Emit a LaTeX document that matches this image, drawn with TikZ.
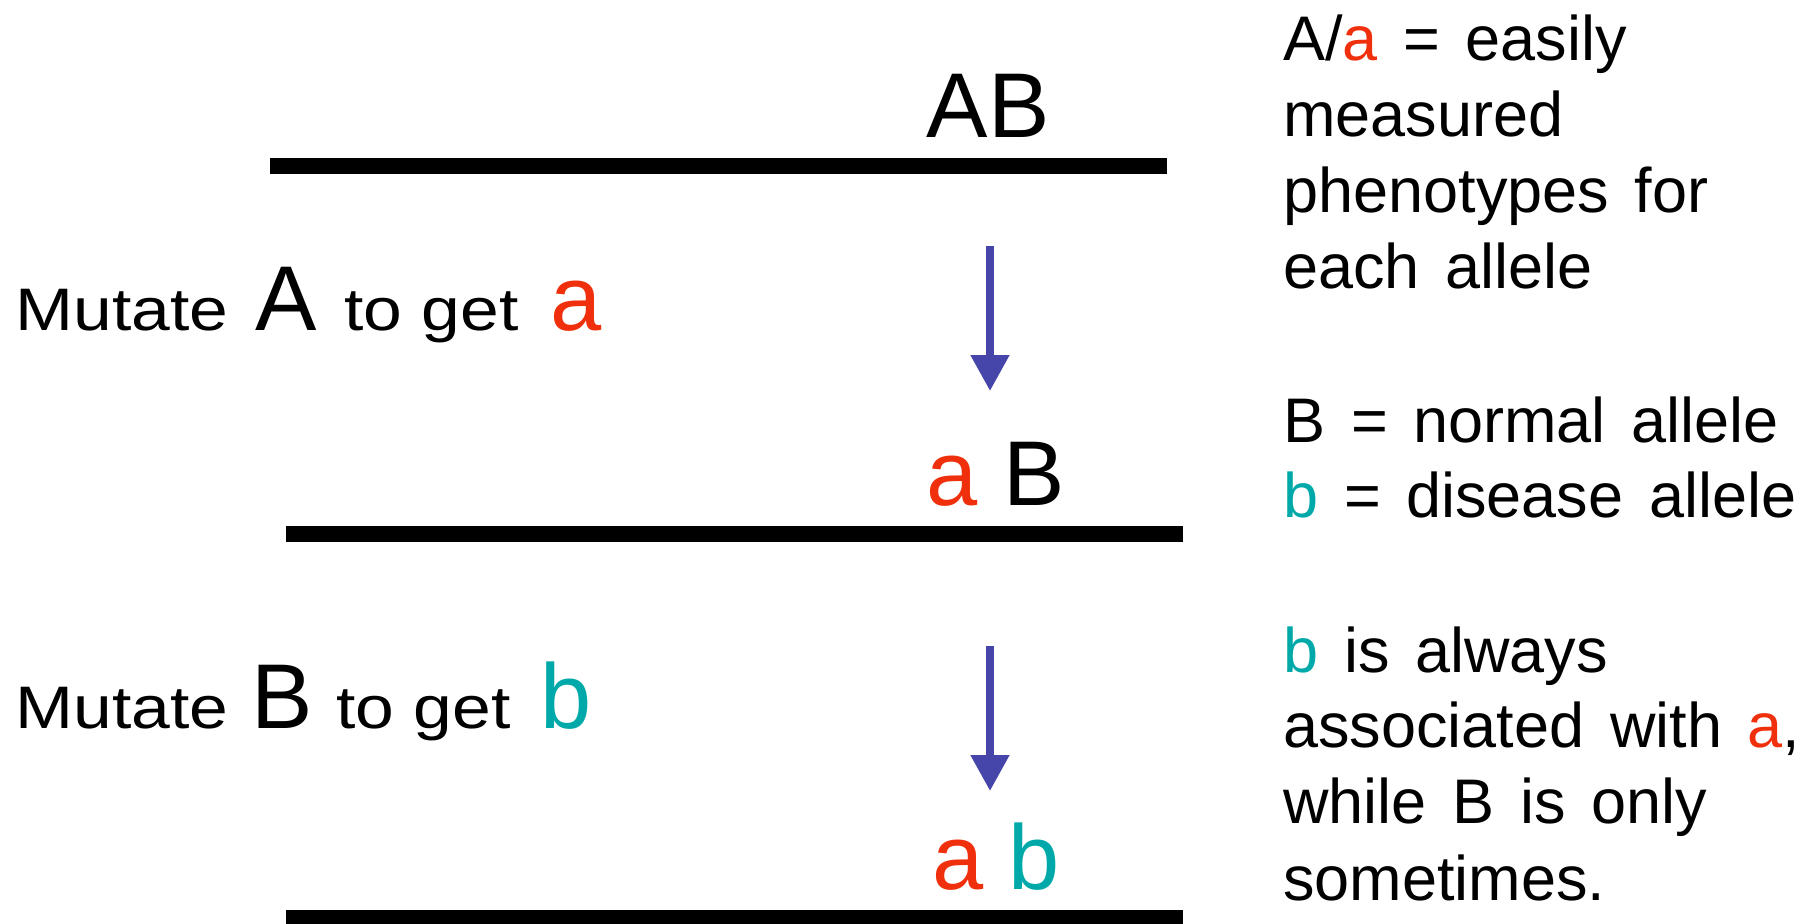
\documentclass[tikz,border=0pt]{standalone}
\usepackage{fontspec}
\setmainfont{Liberation Sans}
\usetikzlibrary{arrows.meta}
\definecolor{allelered}{RGB}{240,48,12}
\definecolor{alleleteal}{RGB}{0,169,169}
\definecolor{mutblue}{RGB}{70,70,170}
\newcommand{\ra}{\textcolor{allelered}{a}}
\newcommand{\tb}{\textcolor{alleleteal}{b}}
\newcommand{\bigsz}{\fontsize{46}{55}\selectfont}
\newcommand{\wide}[1]{\scalebox{1.16}[1]{#1}}
\begin{document}
\begin{tikzpicture}[x=0.5pt,y=-0.5pt,
  note/.style={inner sep=0pt, anchor=base west,
    font={\fontsize{31.5}{38}\selectfont\spaceskip=12.8pt\relax}},
  mutword/.style={inner sep=0pt, anchor=base west, font=\fontsize{30}{36}\selectfont},
  mutletter/.style={inner sep=0pt, anchor=base west, font=\bigsz},
  geno/.style={inner sep=0pt, anchor=base, font=\bigsz},
  chrom/.style={line width=8pt, black},
  mutarrow/.style={mutblue, line width=4pt, -{Triangle[width=18.5pt,length=18pt]}}]
\useasboundingbox (0,0) rectangle (1817,923);

% chromosomes
\draw[chrom] (270,166) -- (1167,166);
\draw[chrom] (286,534) -- (1183,534);
\draw[chrom] (286,918) -- (1183,918);

% genotypes above each chromosome
\node[geno] (g1) at (988,137) {AB};
\node[geno] (g2) at (996,505) {\ra{} B};
\node[geno] (g3) at (996,889) {\ra{} \tb};

% mutation steps
\coordinate (m1s) at (990,246);
\coordinate (m1e) at (990,391);
\coordinate (m2s) at (990,646);
\coordinate (m2e) at (990,791);
\draw[mutarrow] (m1s) -- (m1e);
\draw[mutarrow] (m2s) -- (m2e);

% first mutation label
\node[mutword]   (stepA-verb) at (15,330)  {\wide{Mutate}};
\node[mutletter] (stepA-from) at (255,330) {A};
\node[mutword]   (stepA-mid)  at (344,330) {\wide{to get}};
\node[mutletter] (stepA-to)   at (550,330) {\ra};

% second mutation label
\node[mutword]   (stepB-verb) at (15,728)  {\wide{Mutate}};
\node[mutletter] (stepB-from) at (251,728) {B};
\node[mutword]   (stepB-mid)  at (336,728) {\wide{to get}};
\node[mutletter] (stepB-to)   at (540,728) {\tb};

% notes
\node[note] (n1) at (1283,60) {A/\ra{} = easily};
\node[note] (n2) at (1283,136) {measured};
\node[note] (n3) at (1283,212) {phenotypes for};
\node[note] (n4) at (1283,288) {each allele};
\node[note] (n5) at (1283,442) {B = normal allele};
\node[note] (n6) at (1283,517) {\tb{} = disease allele};
\node[note] (n7) at (1283,672) {\tb{} is always};
\node[note] (n8) at (1283,747) {associated with \ra,};
\node[note] (n9) at (1283,823) {while B is only};
\node[note] (n10) at (1283,900) {sometimes.};
\end{tikzpicture}
\end{document}
